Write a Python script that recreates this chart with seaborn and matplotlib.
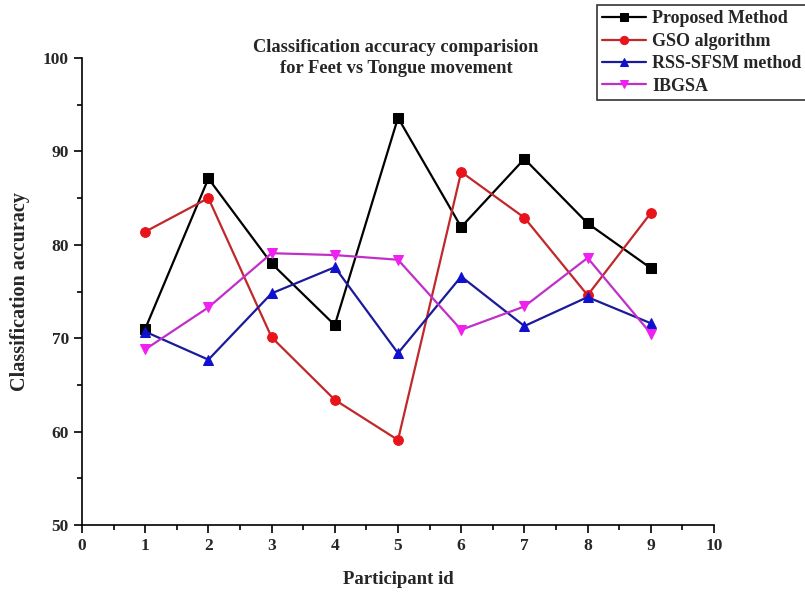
import matplotlib
matplotlib.use("Agg")
import matplotlib.pyplot as plt
import seaborn as sns
import pandas as pd
from matplotlib.ticker import MultipleLocator

participants = [1, 2, 3, 4, 5, 6, 7, 8, 9]
proposed = [71.0, 87.1, 78.0, 71.4, 93.6, 81.9, 89.2, 82.3, 77.5]
gso = [81.4, 85.0, 70.1, 63.4, 59.1, 87.8, 82.9, 74.6, 83.4]
rss_sfsm = [70.7, 67.7, 74.8, 77.6, 68.4, 76.6, 71.3, 74.4, 71.6]
ibgsa = [68.8, 73.3, 79.1, 78.9, 78.4, 70.9, 73.4, 78.6, 70.5]

series_names = ["Proposed Method", "GSO algorithm", "RSS-SFSM method", "IBGSA"]
series_values = [proposed, gso, rss_sfsm, ibgsa]
colors = ["#000000", "#e8141a", "#1010d0", "#f020f0"]
line_colors = ["#000000", "#c0282a", "#1a1a9a", "#c030c8"]
markers = ["s", "o", "^", "v"]

rows = []
for name, vals in zip(series_names, series_values):
    for p, v in zip(participants, vals):
        rows.append({"Participant id": p, "Classification accuracy": v, "Method": name})
df = pd.DataFrame(rows)

sns.set_style("ticks")
plt.rcParams["font.family"] = ["Liberation Serif", "DejaVu Serif"]
plt.rcParams["font.weight"] = "bold"

fig = plt.figure(figsize=(8.05, 5.94), dpi=100)
ax = fig.add_axes([82 / 805, 1 - 525 / 594, 632 / 805, 467 / 594])

for name, lc, mc, mk in zip(series_names, line_colors, colors, markers):
    sub = df[df["Method"] == name]
    sns.lineplot(data=sub, x="Participant id", y="Classification accuracy",
                 ax=ax, color=lc, linewidth=1.6, marker=mk, markersize=7,
                 markerfacecolor=mc, markeredgecolor=mc, label=name, legend=False)

ax.set_xlim(0, 10)
ax.set_ylim(50, 100)
ax.xaxis.set_major_locator(MultipleLocator(1))
ax.xaxis.set_minor_locator(MultipleLocator(0.5))
ax.yaxis.set_major_locator(MultipleLocator(10))
ax.yaxis.set_minor_locator(MultipleLocator(5))
ax.tick_params(axis="both", which="major", direction="out", length=6, width=1.2,
               labelsize=12.5, color="black")
ax.tick_params(axis="both", which="minor", direction="out", length=3.5, width=1.2,
               color="black")
for lab in ax.get_xticklabels() + ax.get_yticklabels():
    lab.set_fontweight("bold")

for side in ["top", "right"]:
    ax.spines[side].set_visible(False)
for side in ["left", "bottom"]:
    ax.spines[side].set_linewidth(1.2)
    ax.spines[side].set_color("black")

ax.set_xlabel("Participant id", fontsize=13.5, fontweight="bold", labelpad=12)
ax.set_ylabel("Classification accuracy", fontsize=14.5, fontweight="bold", labelpad=9)

fig.text(396 / 805, 1 - 58 / 594,
         "Classification accuracy comparision\nfor Feet vs Tongue movement",
         ha="center", va="center", fontsize=13.3, fontweight="bold",
         linespacing=1.35)

h, l = ax.get_legend_handles_labels()
leg = fig.legend(h, l, loc="upper left", bbox_to_anchor=(597 / 805, 1 - 5 / 594),
                 frameon=True, fancybox=False, edgecolor="black",
                 prop={"family": ["Liberation Serif"], "weight": "bold", "size": 13},
                 handlelength=2.4, handletextpad=0.35, borderpad=0.3,
                 labelspacing=0.3, borderaxespad=0, markerscale=0.85)
leg.get_frame().set_linewidth(1.2)

fig.savefig("out.png", dpi=100)
